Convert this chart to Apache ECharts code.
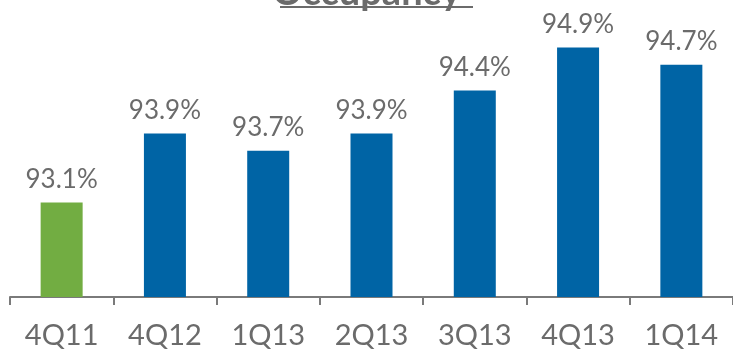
<!DOCTYPE html>
<html><head><meta charset="utf-8">
<script src="https://cdn.jsdelivr.net/npm/echarts@6/dist/echarts.min.js"></script>
<style>html,body{margin:0;padding:0;background:#fff}#c{width:733px;height:351px}</style>
</head><body><div id="c"></div>
<script>
const categories = ['4Q11','4Q12','1Q13','2Q13','3Q13','4Q13','1Q14'];
const occupancy = [93.1, 93.9, 93.7, 93.9, 94.4, 94.9, 94.7];
const barColors = ['#72ad42','#0064a5','#0064a5','#0064a5','#0064a5','#0064a5','#0064a5'];
const titleText = 'Occupancy';

const chart = echarts.init(document.getElementById('c'));
chart.setOption({
  animation: false,
  grid: {left: 10, right: 0, top: 39, bottom: 54, containLabel: false},
  xAxis: {
    type: 'category', data: categories,
    axisLine: {lineStyle: {color: '#7a7a7a', width: 2}},
    axisTick: {show: true, length: 8, lineStyle: {color: '#7a7a7a', width: 2}},
    axisLabel: {color: '#6b6b6b', fontSize: 29, fontFamily: 'Lato', margin: 24}
  },
  yAxis: {type: 'value', min: 92, max: 95, show: false, splitLine: {show: false}},
  series: [{
    type: 'bar', barWidth: 42,
    data: occupancy.map((v, i) => ({value: v, itemStyle: {color: barColors[i]}})),
    label: {show: true, position: 'top', distance: 10, color: '#6b6b6b', fontSize: 26, fontFamily: 'Lato',
      formatter: p => p.value.toFixed(1) + '%'}
  }],
  graphic: [
    {type: 'text', left: 'center', top: -26, style: {text: titleText, fill: '#6b6b6b', fontSize: 38, fontWeight: 'bold', fontFamily: 'Lato'}},
    {type: 'rect', shape: {x: 280, y: 6, width: 193, height: 2}, style: {fill: '#6b6b6b'}}
  ]
});
</script></body></html>
